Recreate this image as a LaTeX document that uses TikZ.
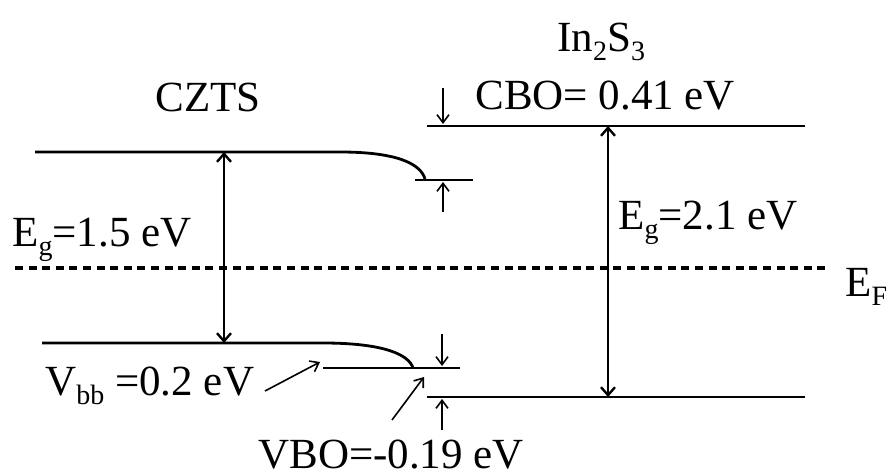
\documentclass[tikz,border=0pt]{standalone}
\usepackage{fontspec}
\setmainfont{Liberation Serif}
\usetikzlibrary{arrows.meta,positioning,calc}
\newcommand{\bsub}[1]{\raisebox{-4.5pt}{\fontsize{14}{16}\selectfont #1}}
\tikzset{
  band/level/.style={line width=1.4pt},
  band/fermi/.style={line width=1.8pt, dash pattern=on 4pt off 2.8pt},
  band/gap/.style={line width=1.2pt, {Straight Barb[length=4pt,width=7pt]}-{Straight Barb[length=4pt,width=7pt]}},
  band/tick/.style={line width=0.8pt, -{Straight Barb[length=4pt,width=6pt]}},
  band/label/.style={anchor=base west, inner sep=0pt, font=\fontsize{21.5}{26}\selectfont}
}

\begin{document}
\begin{tikzpicture}[x=0.5pt, y=-0.5pt]
  \useasboundingbox (0,0) rectangle (893,475);

  % levels of the absorber
  \coordinate (cbL) at (35,152);
  \coordinate (cbB) at (340,152);
  \coordinate (cbE) at (425,179);
  \coordinate (cbsL) at (415,180);
  \coordinate (cbsR) at (473,180);
  \coordinate (vbL) at (42,343);
  \coordinate (vbB) at (323,343);
  \coordinate (vbE) at (413,368);
  \coordinate (vbsL) at (323,368);
  \coordinate (vbsR) at (460,368);
  % levels of the buffer
  \coordinate (cb2L) at (427,126);
  \coordinate (cb2R) at (805,126);
  \coordinate (vb2L) at (427,397);
  \coordinate (vb2R) at (805,397);
  \coordinate (efL) at (15,268);
  \coordinate (efR) at (830,268);

  \draw[band/level] (cbL) -- (cbB) .. controls (400,152) and (421,165) .. (cbE);
  \draw[band/level] (cbsL) -- (cbsR);
  \draw[band/level] (vbL) -- (vbB) .. controls (385,343) and (409,355) .. (vbE);
  \draw[band/level] (vbsL) -- (vbsR);
  \draw[band/level] (cb2L) -- (cb2R);
  \draw[band/level] (vb2L) -- (vb2R);
  \draw[band/fermi] (efL) -- (efR);

  % band gaps
  \draw[band/gap] (224,152) -- (224,343);
  \draw[band/gap] (608,126) -- (608,397);

  % offsets
  \coordinate (cboA) at (443,88);
  \draw[band/tick] (cboA) -- (443,124);
  \coordinate (cbsA) at (443,212);
  \draw[band/tick] (cbsA) -- (443,182);
  \coordinate (vbsA) at (442,334);
  \draw[band/tick] (vbsA) -- (442,366);
  \coordinate (vb2A) at (442,430);
  \draw[band/tick] (vb2A) -- (442,399);
  \coordinate (vbbA) at (265,391);
  \draw[band/tick] (vbbA) -- (320,362);
  \coordinate (vboA) at (392,420);
  \draw[band/tick] (vboA) -- (424,377);

  % labels
  \node[band/label] (czts) at (155,112) {CZTS};
  \node[band/label] (ins) at (557,52) {In\bsub{2}S\bsub{3}};
  \node[band/label] (cbo) at (475,110) {CBO= 0.41 eV};
  \node[band/label] (eg1) at (12,247) {E\bsub{g}=1.5 eV};
  \node[band/label] (eg2) at (618,230) {E\bsub{g}=2.1 eV};
  \node[band/label] (ef) at (845,297) {E\bsub{F}};
  \node[band/label] (vbb) at (45,395) {V\bsub{bb} =0.2 eV};
  \node[band/label] (vbo) at (258,468) {VBO=-0.19 eV};
\end{tikzpicture}
\end{document}
